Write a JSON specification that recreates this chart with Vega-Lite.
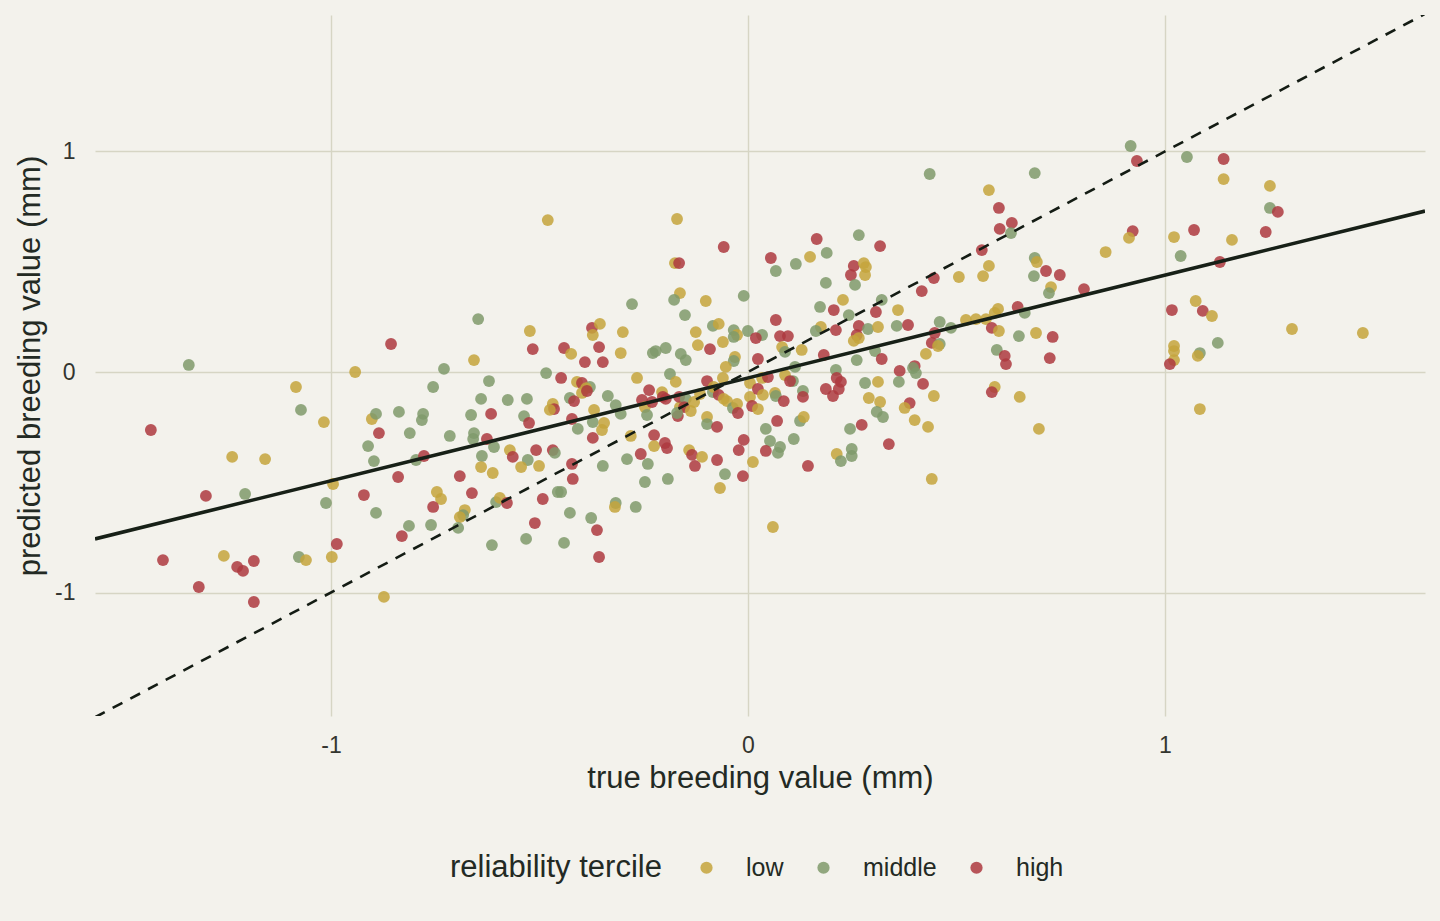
{
  "$schema": "https://vega.github.io/schema/vega-lite/v6.json",
  "width": 1330,
  "height": 701,
  "autosize": {"type": "none"},
  "padding": {"left": 95, "top": 15, "right": 15, "bottom": 205},
  "background": "#f3f2ec",
  "config": {
    "view": {"stroke": null},
    "font": "Liberation Sans",
    "axis": {
      "domain": false,
      "ticks": false,
      "grid": true,
      "gridColor": "#d6d5c4",
      "gridWidth": 1.4,
      "labelFont": "Liberation Sans",
      "labelFontSize": 23,
      "labelColor": "#33352f",
      "titleFont": "Liberation Sans",
      "titleFontSize": 31,
      "titleFontWeight": "normal",
      "titleColor": "#232a24"
    },
    "legend": {
      "labelFont": "Liberation Sans",
      "titleFont": "Liberation Sans"
    }
  },
  "datasets": {
    "pts": [
      {"tbv":-1.432,"pbv":-0.263,"tercile":"high"},
      {"tbv":-1.403,"pbv":-0.853,"tercile":"high"},
      {"tbv":-1.341,"pbv":0.032,"tercile":"middle"},
      {"tbv":-1.317,"pbv":-0.975,"tercile":"high"},
      {"tbv":-1.300,"pbv":-0.562,"tercile":"high"},
      {"tbv":-1.257,"pbv":-0.834,"tercile":"low"},
      {"tbv":-1.237,"pbv":-0.385,"tercile":"low"},
      {"tbv":-1.225,"pbv":-0.884,"tercile":"high"},
      {"tbv":-1.211,"pbv":-0.902,"tercile":"high"},
      {"tbv":-1.206,"pbv":-0.553,"tercile":"middle"},
      {"tbv":-1.185,"pbv":-0.857,"tercile":"high"},
      {"tbv":-1.185,"pbv":-1.043,"tercile":"high"},
      {"tbv":-1.158,"pbv":-0.395,"tercile":"low"},
      {"tbv":-1.084,"pbv":-0.068,"tercile":"low"},
      {"tbv":-1.077,"pbv":-0.839,"tercile":"middle"},
      {"tbv":-1.072,"pbv":-0.172,"tercile":"middle"},
      {"tbv":-1.060,"pbv":-0.853,"tercile":"low"},
      {"tbv":-1.017,"pbv":-0.227,"tercile":"low"},
      {"tbv":-1.012,"pbv":-0.594,"tercile":"middle"},
      {"tbv":-0.995,"pbv":-0.508,"tercile":"low"},
      {"tbv":-0.998,"pbv":-0.839,"tercile":"low"},
      {"tbv":-0.986,"pbv":-0.780,"tercile":"high"},
      {"tbv":-0.942,"pbv":0.000,"tercile":"low"},
      {"tbv":-0.921,"pbv":-0.558,"tercile":"high"},
      {"tbv":-0.911,"pbv":-0.336,"tercile":"middle"},
      {"tbv":-0.902,"pbv":-0.213,"tercile":"low"},
      {"tbv":-0.897,"pbv":-0.404,"tercile":"middle"},
      {"tbv":-0.892,"pbv":-0.190,"tercile":"middle"},
      {"tbv":-0.892,"pbv":-0.639,"tercile":"middle"},
      {"tbv":-0.885,"pbv":-0.277,"tercile":"high"},
      {"tbv":-0.873,"pbv":-1.020,"tercile":"low"},
      {"tbv":-0.856,"pbv":0.127,"tercile":"high"},
      {"tbv":-0.839,"pbv":-0.476,"tercile":"high"},
      {"tbv":-0.837,"pbv":-0.181,"tercile":"middle"},
      {"tbv":-0.830,"pbv":-0.744,"tercile":"high"},
      {"tbv":-0.813,"pbv":-0.698,"tercile":"middle"},
      {"tbv":-0.811,"pbv":-0.277,"tercile":"middle"},
      {"tbv":-0.796,"pbv":-0.399,"tercile":"middle"},
      {"tbv":-0.779,"pbv":-0.190,"tercile":"middle"},
      {"tbv":-0.782,"pbv":-0.218,"tercile":"middle"},
      {"tbv":-0.777,"pbv":-0.381,"tercile":"high"},
      {"tbv":-0.480,"pbv":0.689,"tercile":"low"},
      {"tbv":-0.278,"pbv":0.308,"tercile":"middle"},
      {"tbv":-0.647,"pbv":0.240,"tercile":"middle"},
      {"tbv":-0.523,"pbv":0.186,"tercile":"low"},
      {"tbv":-0.374,"pbv":0.200,"tercile":"high"},
      {"tbv":-0.355,"pbv":0.218,"tercile":"low"},
      {"tbv":-0.372,"pbv":0.168,"tercile":"low"},
      {"tbv":-0.300,"pbv":0.181,"tercile":"low"},
      {"tbv":-0.516,"pbv":0.104,"tercile":"high"},
      {"tbv":-0.441,"pbv":0.109,"tercile":"high"},
      {"tbv":-0.424,"pbv":0.082,"tercile":"low"},
      {"tbv":-0.357,"pbv":0.113,"tercile":"high"},
      {"tbv":-0.305,"pbv":0.086,"tercile":"low"},
      {"tbv":-0.391,"pbv":0.045,"tercile":"high"},
      {"tbv":-0.348,"pbv":0.045,"tercile":"high"},
      {"tbv":-0.657,"pbv":0.054,"tercile":"low"},
      {"tbv":-0.729,"pbv":0.014,"tercile":"middle"},
      {"tbv":-0.484,"pbv":-0.005,"tercile":"middle"},
      {"tbv":-0.448,"pbv":-0.027,"tercile":"high"},
      {"tbv":-0.266,"pbv":-0.027,"tercile":"low"},
      {"tbv":-0.755,"pbv":-0.068,"tercile":"middle"},
      {"tbv":-0.621,"pbv":-0.041,"tercile":"middle"},
      {"tbv":-0.410,"pbv":-0.045,"tercile":"low"},
      {"tbv":-0.398,"pbv":-0.050,"tercile":"high"},
      {"tbv":-0.379,"pbv":-0.068,"tercile":"middle"},
      {"tbv":-0.388,"pbv":-0.073,"tercile":"low"},
      {"tbv":-0.398,"pbv":-0.095,"tercile":"low"},
      {"tbv":-0.386,"pbv":-0.086,"tercile":"high"},
      {"tbv":-0.640,"pbv":-0.122,"tercile":"middle"},
      {"tbv":-0.576,"pbv":-0.127,"tercile":"middle"},
      {"tbv":-0.530,"pbv":-0.122,"tercile":"middle"},
      {"tbv":-0.427,"pbv":-0.118,"tercile":"middle"},
      {"tbv":-0.417,"pbv":-0.132,"tercile":"high"},
      {"tbv":-0.336,"pbv":-0.109,"tercile":"middle"},
      {"tbv":-0.317,"pbv":-0.150,"tercile":"middle"},
      {"tbv":-0.305,"pbv":-0.190,"tercile":"middle"},
      {"tbv":-0.468,"pbv":-0.145,"tercile":"low"},
      {"tbv":-0.465,"pbv":-0.168,"tercile":"high"},
      {"tbv":-0.475,"pbv":-0.172,"tercile":"low"},
      {"tbv":-0.369,"pbv":-0.172,"tercile":"low"},
      {"tbv":-0.254,"pbv":-0.127,"tercile":"high"},
      {"tbv":-0.664,"pbv":-0.195,"tercile":"middle"},
      {"tbv":-0.616,"pbv":-0.190,"tercile":"high"},
      {"tbv":-0.537,"pbv":-0.200,"tercile":"middle"},
      {"tbv":-0.525,"pbv":-0.231,"tercile":"high"},
      {"tbv":-0.422,"pbv":-0.213,"tercile":"high"},
      {"tbv":-0.372,"pbv":-0.227,"tercile":"middle"},
      {"tbv":-0.345,"pbv":-0.231,"tercile":"low"},
      {"tbv":-0.350,"pbv":-0.263,"tercile":"low"},
      {"tbv":-0.408,"pbv":-0.258,"tercile":"middle"},
      {"tbv":-0.715,"pbv":-0.290,"tercile":"middle"},
      {"tbv":-0.657,"pbv":-0.277,"tercile":"middle"},
      {"tbv":-0.659,"pbv":-0.304,"tercile":"middle"},
      {"tbv":-0.626,"pbv":-0.304,"tercile":"high"},
      {"tbv":-0.609,"pbv":-0.340,"tercile":"middle"},
      {"tbv":-0.372,"pbv":-0.299,"tercile":"high"},
      {"tbv":-0.281,"pbv":-0.290,"tercile":"low"},
      {"tbv":-0.638,"pbv":-0.381,"tercile":"middle"},
      {"tbv":-0.571,"pbv":-0.354,"tercile":"low"},
      {"tbv":-0.564,"pbv":-0.385,"tercile":"high"},
      {"tbv":-0.508,"pbv":-0.354,"tercile":"high"},
      {"tbv":-0.468,"pbv":-0.354,"tercile":"high"},
      {"tbv":-0.463,"pbv":-0.367,"tercile":"middle"},
      {"tbv":-0.528,"pbv":-0.399,"tercile":"middle"},
      {"tbv":-0.544,"pbv":-0.431,"tercile":"low"},
      {"tbv":-0.501,"pbv":-0.426,"tercile":"low"},
      {"tbv":-0.640,"pbv":-0.431,"tercile":"low"},
      {"tbv":-0.612,"pbv":-0.458,"tercile":"low"},
      {"tbv":-0.422,"pbv":-0.417,"tercile":"high"},
      {"tbv":-0.348,"pbv":-0.426,"tercile":"middle"},
      {"tbv":-0.290,"pbv":-0.395,"tercile":"middle"},
      {"tbv":-0.257,"pbv":-0.372,"tercile":"high"},
      {"tbv":-0.691,"pbv":-0.472,"tercile":"high"},
      {"tbv":-0.420,"pbv":-0.485,"tercile":"high"},
      {"tbv":-0.746,"pbv":-0.544,"tercile":"low"},
      {"tbv":-0.736,"pbv":-0.576,"tercile":"low"},
      {"tbv":-0.662,"pbv":-0.549,"tercile":"high"},
      {"tbv":-0.755,"pbv":-0.612,"tercile":"high"},
      {"tbv":-0.604,"pbv":-0.590,"tercile":"middle"},
      {"tbv":-0.595,"pbv":-0.571,"tercile":"low"},
      {"tbv":-0.578,"pbv":-0.594,"tercile":"high"},
      {"tbv":-0.492,"pbv":-0.576,"tercile":"high"},
      {"tbv":-0.456,"pbv":-0.544,"tercile":"middle"},
      {"tbv":-0.448,"pbv":-0.544,"tercile":"middle"},
      {"tbv":-0.317,"pbv":-0.594,"tercile":"middle"},
      {"tbv":-0.319,"pbv":-0.612,"tercile":"low"},
      {"tbv":-0.269,"pbv":-0.612,"tercile":"middle"},
      {"tbv":-0.679,"pbv":-0.626,"tercile":"low"},
      {"tbv":-0.683,"pbv":-0.649,"tercile":"middle"},
      {"tbv":-0.691,"pbv":-0.658,"tercile":"low"},
      {"tbv":-0.760,"pbv":-0.694,"tercile":"middle"},
      {"tbv":-0.695,"pbv":-0.707,"tercile":"middle"},
      {"tbv":-0.511,"pbv":-0.685,"tercile":"high"},
      {"tbv":-0.427,"pbv":-0.639,"tercile":"middle"},
      {"tbv":-0.376,"pbv":-0.662,"tercile":"middle"},
      {"tbv":-0.362,"pbv":-0.717,"tercile":"high"},
      {"tbv":-0.614,"pbv":-0.785,"tercile":"middle"},
      {"tbv":-0.532,"pbv":-0.757,"tercile":"middle"},
      {"tbv":-0.441,"pbv":-0.775,"tercile":"middle"},
      {"tbv":-0.357,"pbv":-0.839,"tercile":"high"},
      {"tbv":-0.170,"pbv":0.694,"tercile":"low"},
      {"tbv":-0.058,"pbv":0.567,"tercile":"high"},
      {"tbv":-0.175,"pbv":0.494,"tercile":"low"},
      {"tbv":-0.165,"pbv":0.494,"tercile":"high"},
      {"tbv":0.165,"pbv":0.603,"tercile":"high"},
      {"tbv":0.055,"pbv":0.517,"tercile":"high"},
      {"tbv":0.149,"pbv":0.522,"tercile":"low"},
      {"tbv":0.115,"pbv":0.490,"tercile":"middle"},
      {"tbv":0.067,"pbv":0.458,"tercile":"middle"},
      {"tbv":0.189,"pbv":0.540,"tercile":"middle"},
      {"tbv":0.187,"pbv":0.404,"tercile":"middle"},
      {"tbv":-0.163,"pbv":0.358,"tercile":"low"},
      {"tbv":-0.177,"pbv":0.327,"tercile":"middle"},
      {"tbv":-0.101,"pbv":0.322,"tercile":"low"},
      {"tbv":-0.010,"pbv":0.345,"tercile":"middle"},
      {"tbv":-0.151,"pbv":0.258,"tercile":"middle"},
      {"tbv":0.173,"pbv":0.295,"tercile":"middle"},
      {"tbv":0.067,"pbv":0.236,"tercile":"high"},
      {"tbv":-0.125,"pbv":0.181,"tercile":"low"},
      {"tbv":-0.120,"pbv":0.122,"tercile":"low"},
      {"tbv":-0.084,"pbv":0.209,"tercile":"middle"},
      {"tbv":-0.070,"pbv":0.218,"tercile":"low"},
      {"tbv":-0.034,"pbv":0.190,"tercile":"middle"},
      {"tbv":-0.026,"pbv":0.168,"tercile":"low"},
      {"tbv":-0.034,"pbv":0.159,"tercile":"middle"},
      {"tbv":0.000,"pbv":0.186,"tercile":"middle"},
      {"tbv":0.034,"pbv":0.168,"tercile":"middle"},
      {"tbv":0.019,"pbv":0.154,"tercile":"high"},
      {"tbv":-0.060,"pbv":0.136,"tercile":"low"},
      {"tbv":-0.091,"pbv":0.104,"tercile":"high"},
      {"tbv":0.077,"pbv":0.163,"tercile":"high"},
      {"tbv":0.096,"pbv":0.163,"tercile":"high"},
      {"tbv":0.082,"pbv":0.113,"tercile":"low"},
      {"tbv":0.089,"pbv":0.091,"tercile":"middle"},
      {"tbv":0.129,"pbv":0.100,"tercile":"low"},
      {"tbv":0.175,"pbv":0.204,"tercile":"low"},
      {"tbv":0.163,"pbv":0.186,"tercile":"middle"},
      {"tbv":0.182,"pbv":0.077,"tercile":"high"},
      {"tbv":-0.228,"pbv":0.086,"tercile":"middle"},
      {"tbv":-0.221,"pbv":0.095,"tercile":"middle"},
      {"tbv":-0.197,"pbv":0.109,"tercile":"middle"},
      {"tbv":-0.161,"pbv":0.082,"tercile":"middle"},
      {"tbv":-0.149,"pbv":0.054,"tercile":"middle"},
      {"tbv":-0.031,"pbv":0.068,"tercile":"low"},
      {"tbv":-0.034,"pbv":0.050,"tercile":"middle"},
      {"tbv":-0.053,"pbv":0.023,"tercile":"low"},
      {"tbv":0.024,"pbv":0.059,"tercile":"high"},
      {"tbv":0.113,"pbv":0.023,"tercile":"middle"},
      {"tbv":-0.187,"pbv":-0.009,"tercile":"middle"},
      {"tbv":-0.173,"pbv":-0.045,"tercile":"low"},
      {"tbv":-0.098,"pbv":-0.041,"tercile":"high"},
      {"tbv":-0.060,"pbv":-0.027,"tercile":"low"},
      {"tbv":0.005,"pbv":-0.050,"tercile":"low"},
      {"tbv":0.034,"pbv":-0.027,"tercile":"low"},
      {"tbv":0.048,"pbv":-0.023,"tercile":"high"},
      {"tbv":0.089,"pbv":-0.014,"tercile":"low"},
      {"tbv":0.108,"pbv":-0.041,"tercile":"middle"},
      {"tbv":0.101,"pbv":-0.041,"tercile":"high"},
      {"tbv":-0.237,"pbv":-0.082,"tercile":"high"},
      {"tbv":-0.247,"pbv":-0.159,"tercile":"low"},
      {"tbv":-0.206,"pbv":-0.091,"tercile":"low"},
      {"tbv":-0.204,"pbv":-0.113,"tercile":"high"},
      {"tbv":-0.197,"pbv":-0.122,"tercile":"high"},
      {"tbv":-0.230,"pbv":-0.136,"tercile":"high"},
      {"tbv":-0.163,"pbv":-0.159,"tercile":"low"},
      {"tbv":-0.165,"pbv":-0.113,"tercile":"high"},
      {"tbv":-0.149,"pbv":-0.122,"tercile":"middle"},
      {"tbv":-0.153,"pbv":-0.159,"tercile":"high"},
      {"tbv":-0.137,"pbv":-0.177,"tercile":"low"},
      {"tbv":-0.129,"pbv":-0.136,"tercile":"low"},
      {"tbv":-0.115,"pbv":-0.100,"tercile":"low"},
      {"tbv":-0.084,"pbv":-0.091,"tercile":"middle"},
      {"tbv":-0.082,"pbv":-0.068,"tercile":"low"},
      {"tbv":-0.070,"pbv":-0.104,"tercile":"high"},
      {"tbv":-0.058,"pbv":-0.122,"tercile":"low"},
      {"tbv":-0.050,"pbv":-0.132,"tercile":"low"},
      {"tbv":-0.036,"pbv":-0.163,"tercile":"middle"},
      {"tbv":-0.026,"pbv":-0.145,"tercile":"low"},
      {"tbv":-0.024,"pbv":-0.186,"tercile":"high"},
      {"tbv":0.005,"pbv":-0.113,"tercile":"low"},
      {"tbv":0.024,"pbv":-0.077,"tercile":"high"},
      {"tbv":0.036,"pbv":-0.104,"tercile":"low"},
      {"tbv":0.010,"pbv":-0.154,"tercile":"high"},
      {"tbv":0.024,"pbv":-0.168,"tercile":"low"},
      {"tbv":0.065,"pbv":-0.095,"tercile":"low"},
      {"tbv":0.067,"pbv":-0.109,"tercile":"middle"},
      {"tbv":0.086,"pbv":-0.132,"tercile":"high"},
      {"tbv":0.132,"pbv":-0.086,"tercile":"middle"},
      {"tbv":0.132,"pbv":-0.113,"tercile":"high"},
      {"tbv":0.187,"pbv":-0.077,"tercile":"high"},
      {"tbv":-0.242,"pbv":-0.195,"tercile":"middle"},
      {"tbv":-0.168,"pbv":-0.200,"tercile":"high"},
      {"tbv":-0.170,"pbv":-0.186,"tercile":"middle"},
      {"tbv":-0.098,"pbv":-0.204,"tercile":"low"},
      {"tbv":-0.098,"pbv":-0.236,"tercile":"middle"},
      {"tbv":-0.074,"pbv":-0.249,"tercile":"high"},
      {"tbv":0.070,"pbv":-0.222,"tercile":"high"},
      {"tbv":0.043,"pbv":-0.258,"tercile":"middle"},
      {"tbv":0.125,"pbv":-0.222,"tercile":"middle"},
      {"tbv":0.134,"pbv":-0.204,"tercile":"low"},
      {"tbv":-0.225,"pbv":-0.286,"tercile":"high"},
      {"tbv":-0.225,"pbv":-0.336,"tercile":"low"},
      {"tbv":-0.199,"pbv":-0.322,"tercile":"high"},
      {"tbv":-0.194,"pbv":-0.345,"tercile":"high"},
      {"tbv":-0.010,"pbv":-0.308,"tercile":"high"},
      {"tbv":-0.022,"pbv":-0.354,"tercile":"high"},
      {"tbv":0.053,"pbv":-0.313,"tercile":"middle"},
      {"tbv":0.077,"pbv":-0.340,"tercile":"middle"},
      {"tbv":0.072,"pbv":-0.367,"tercile":"middle"},
      {"tbv":0.043,"pbv":-0.358,"tercile":"high"},
      {"tbv":0.110,"pbv":-0.304,"tercile":"middle"},
      {"tbv":-0.240,"pbv":-0.417,"tercile":"middle"},
      {"tbv":-0.141,"pbv":-0.354,"tercile":"low"},
      {"tbv":-0.134,"pbv":-0.376,"tercile":"high"},
      {"tbv":-0.127,"pbv":-0.426,"tercile":"high"},
      {"tbv":-0.110,"pbv":-0.385,"tercile":"low"},
      {"tbv":-0.074,"pbv":-0.399,"tercile":"high"},
      {"tbv":0.012,"pbv":-0.408,"tercile":"low"},
      {"tbv":0.144,"pbv":-0.426,"tercile":"high"},
      {"tbv":-0.247,"pbv":-0.499,"tercile":"middle"},
      {"tbv":-0.192,"pbv":-0.485,"tercile":"middle"},
      {"tbv":-0.055,"pbv":-0.463,"tercile":"middle"},
      {"tbv":-0.012,"pbv":-0.472,"tercile":"high"},
      {"tbv":-0.067,"pbv":-0.526,"tercile":"low"},
      {"tbv":0.060,"pbv":-0.703,"tercile":"low"},
      {"tbv":0.436,"pbv":0.898,"tercile":"middle"},
      {"tbv":0.578,"pbv":0.825,"tercile":"low"},
      {"tbv":0.602,"pbv":0.744,"tercile":"high"},
      {"tbv":0.633,"pbv":0.676,"tercile":"high"},
      {"tbv":0.604,"pbv":0.649,"tercile":"high"},
      {"tbv":0.631,"pbv":0.630,"tercile":"middle"},
      {"tbv":0.266,"pbv":0.621,"tercile":"middle"},
      {"tbv":0.317,"pbv":0.571,"tercile":"high"},
      {"tbv":0.561,"pbv":0.553,"tercile":"high"},
      {"tbv":0.254,"pbv":0.481,"tercile":"high"},
      {"tbv":0.278,"pbv":0.494,"tercile":"low"},
      {"tbv":0.283,"pbv":0.476,"tercile":"low"},
      {"tbv":0.281,"pbv":0.440,"tercile":"low"},
      {"tbv":0.247,"pbv":0.440,"tercile":"high"},
      {"tbv":0.257,"pbv":0.395,"tercile":"middle"},
      {"tbv":0.578,"pbv":0.481,"tercile":"low"},
      {"tbv":0.564,"pbv":0.435,"tercile":"low"},
      {"tbv":0.506,"pbv":0.431,"tercile":"low"},
      {"tbv":0.446,"pbv":0.426,"tercile":"high"},
      {"tbv":0.417,"pbv":0.367,"tercile":"high"},
      {"tbv":0.228,"pbv":0.327,"tercile":"low"},
      {"tbv":0.321,"pbv":0.327,"tercile":"middle"},
      {"tbv":0.206,"pbv":0.281,"tercile":"high"},
      {"tbv":0.360,"pbv":0.281,"tercile":"low"},
      {"tbv":0.307,"pbv":0.272,"tercile":"high"},
      {"tbv":0.242,"pbv":0.258,"tercile":"middle"},
      {"tbv":0.600,"pbv":0.286,"tercile":"low"},
      {"tbv":0.592,"pbv":0.268,"tercile":"low"},
      {"tbv":0.647,"pbv":0.295,"tercile":"high"},
      {"tbv":0.211,"pbv":0.190,"tercile":"high"},
      {"tbv":0.266,"pbv":0.209,"tercile":"high"},
      {"tbv":0.288,"pbv":0.195,"tercile":"middle"},
      {"tbv":0.312,"pbv":0.204,"tercile":"low"},
      {"tbv":0.357,"pbv":0.209,"tercile":"middle"},
      {"tbv":0.384,"pbv":0.213,"tercile":"high"},
      {"tbv":0.261,"pbv":0.168,"tercile":"high"},
      {"tbv":0.266,"pbv":0.154,"tercile":"low"},
      {"tbv":0.254,"pbv":0.141,"tercile":"low"},
      {"tbv":0.460,"pbv":0.227,"tercile":"middle"},
      {"tbv":0.487,"pbv":0.200,"tercile":"middle"},
      {"tbv":0.523,"pbv":0.236,"tercile":"low"},
      {"tbv":0.547,"pbv":0.240,"tercile":"low"},
      {"tbv":0.571,"pbv":0.240,"tercile":"low"},
      {"tbv":0.585,"pbv":0.200,"tercile":"high"},
      {"tbv":0.602,"pbv":0.186,"tercile":"low"},
      {"tbv":0.448,"pbv":0.177,"tercile":"high"},
      {"tbv":0.441,"pbv":0.132,"tercile":"high"},
      {"tbv":0.460,"pbv":0.127,"tercile":"middle"},
      {"tbv":0.456,"pbv":0.118,"tercile":"low"},
      {"tbv":0.650,"pbv":0.163,"tercile":"middle"},
      {"tbv":0.305,"pbv":0.095,"tercile":"middle"},
      {"tbv":0.321,"pbv":0.059,"tercile":"high"},
      {"tbv":0.427,"pbv":0.082,"tercile":"low"},
      {"tbv":0.261,"pbv":0.054,"tercile":"middle"},
      {"tbv":0.597,"pbv":0.100,"tercile":"middle"},
      {"tbv":0.616,"pbv":0.073,"tercile":"high"},
      {"tbv":0.619,"pbv":0.036,"tercile":"high"},
      {"tbv":0.211,"pbv":0.009,"tercile":"middle"},
      {"tbv":0.213,"pbv":-0.027,"tercile":"high"},
      {"tbv":0.223,"pbv":-0.045,"tercile":"high"},
      {"tbv":0.218,"pbv":-0.077,"tercile":"high"},
      {"tbv":0.204,"pbv":-0.109,"tercile":"high"},
      {"tbv":0.281,"pbv":-0.050,"tercile":"middle"},
      {"tbv":0.312,"pbv":-0.045,"tercile":"low"},
      {"tbv":0.364,"pbv":0.005,"tercile":"high"},
      {"tbv":0.362,"pbv":-0.045,"tercile":"middle"},
      {"tbv":0.400,"pbv":0.027,"tercile":"high"},
      {"tbv":0.396,"pbv":0.018,"tercile":"middle"},
      {"tbv":0.403,"pbv":-0.005,"tercile":"middle"},
      {"tbv":0.420,"pbv":-0.054,"tercile":"high"},
      {"tbv":0.446,"pbv":-0.109,"tercile":"low"},
      {"tbv":0.592,"pbv":-0.068,"tercile":"low"},
      {"tbv":0.585,"pbv":-0.091,"tercile":"high"},
      {"tbv":0.652,"pbv":-0.113,"tercile":"low"},
      {"tbv":0.290,"pbv":-0.118,"tercile":"low"},
      {"tbv":0.317,"pbv":-0.136,"tercile":"low"},
      {"tbv":0.388,"pbv":-0.141,"tercile":"high"},
      {"tbv":0.376,"pbv":-0.163,"tercile":"low"},
      {"tbv":0.309,"pbv":-0.181,"tercile":"middle"},
      {"tbv":0.324,"pbv":-0.204,"tercile":"middle"},
      {"tbv":0.400,"pbv":-0.218,"tercile":"low"},
      {"tbv":0.432,"pbv":-0.249,"tercile":"low"},
      {"tbv":0.245,"pbv":-0.258,"tercile":"middle"},
      {"tbv":0.273,"pbv":-0.240,"tercile":"high"},
      {"tbv":0.338,"pbv":-0.327,"tercile":"high"},
      {"tbv":0.213,"pbv":-0.372,"tercile":"low"},
      {"tbv":0.223,"pbv":-0.404,"tercile":"middle"},
      {"tbv":0.249,"pbv":-0.349,"tercile":"middle"},
      {"tbv":0.249,"pbv":-0.381,"tercile":"middle"},
      {"tbv":0.441,"pbv":-0.485,"tercile":"low"},
      {"tbv":0.918,"pbv":1.025,"tercile":"middle"},
      {"tbv":0.933,"pbv":0.957,"tercile":"high"},
      {"tbv":1.053,"pbv":0.975,"tercile":"middle"},
      {"tbv":0.688,"pbv":0.902,"tercile":"middle"},
      {"tbv":0.923,"pbv":0.639,"tercile":"high"},
      {"tbv":0.914,"pbv":0.608,"tercile":"low"},
      {"tbv":1.022,"pbv":0.612,"tercile":"low"},
      {"tbv":1.070,"pbv":0.644,"tercile":"high"},
      {"tbv":0.858,"pbv":0.544,"tercile":"low"},
      {"tbv":1.038,"pbv":0.526,"tercile":"middle"},
      {"tbv":0.688,"pbv":0.517,"tercile":"middle"},
      {"tbv":0.693,"pbv":0.499,"tercile":"low"},
      {"tbv":0.715,"pbv":0.458,"tercile":"high"},
      {"tbv":0.748,"pbv":0.440,"tercile":"high"},
      {"tbv":0.686,"pbv":0.435,"tercile":"middle"},
      {"tbv":0.727,"pbv":0.385,"tercile":"low"},
      {"tbv":0.722,"pbv":0.358,"tercile":"middle"},
      {"tbv":0.806,"pbv":0.376,"tercile":"high"},
      {"tbv":1.074,"pbv":0.322,"tercile":"low"},
      {"tbv":1.091,"pbv":0.277,"tercile":"high"},
      {"tbv":1.017,"pbv":0.281,"tercile":"high"},
      {"tbv":0.664,"pbv":0.268,"tercile":"middle"},
      {"tbv":0.691,"pbv":0.177,"tercile":"low"},
      {"tbv":0.731,"pbv":0.159,"tercile":"high"},
      {"tbv":0.724,"pbv":0.063,"tercile":"high"},
      {"tbv":1.022,"pbv":0.118,"tercile":"low"},
      {"tbv":1.022,"pbv":0.095,"tercile":"low"},
      {"tbv":1.022,"pbv":0.054,"tercile":"low"},
      {"tbv":1.012,"pbv":0.036,"tercile":"high"},
      {"tbv":1.084,"pbv":0.086,"tercile":"middle"},
      {"tbv":1.079,"pbv":0.073,"tercile":"low"},
      {"tbv":1.084,"pbv":-0.168,"tercile":"low"},
      {"tbv":0.698,"pbv":-0.258,"tercile":"low"},
      {"tbv":1.141,"pbv":0.966,"tercile":"high"},
      {"tbv":1.141,"pbv":0.875,"tercile":"low"},
      {"tbv":1.252,"pbv":0.844,"tercile":"low"},
      {"tbv":1.252,"pbv":0.744,"tercile":"middle"},
      {"tbv":1.271,"pbv":0.726,"tercile":"high"},
      {"tbv":1.242,"pbv":0.635,"tercile":"high"},
      {"tbv":1.161,"pbv":0.599,"tercile":"low"},
      {"tbv":1.132,"pbv":0.499,"tercile":"high"},
      {"tbv":1.113,"pbv":0.254,"tercile":"low"},
      {"tbv":1.305,"pbv":0.195,"tercile":"low"},
      {"tbv":1.475,"pbv":0.177,"tercile":"low"},
      {"tbv":1.127,"pbv":0.132,"tercile":"middle"}
    ],
    "identity": [
      {"tbv": -1.566, "pbv": -1.566},
      {"tbv": 1.624, "pbv": 1.624}
    ],
    "fit": [
      {"tbv": -1.566, "pbv": -0.757},
      {"tbv": 1.624, "pbv": 0.730}
    ]
  },
  "layer": [
    {
      "data": {"name": "pts"},
      "mark": {"type": "point", "filled": true, "size": 140, "opacity": 0.85},
      "encoding": {
        "x": {
          "field": "tbv", "type": "quantitative",
          "scale": {"domain": [-1.566, 1.624], "nice": false, "zero": false},
          "axis": {
            "title": "true breeding value (mm)",
            "values": [-1, 0, 1],
            "format": "d",
            "labelExpr": "replace(datum.label, '\u2212', '-')",
            "labelPadding": 18,
            "titlePadding": 6
          }
        },
        "y": {
          "field": "pbv", "type": "quantitative",
          "scale": {"domain": [-1.56, 1.619], "nice": false, "zero": false},
          "axis": {
            "title": "predicted breeding value (mm)",
            "values": [-1, 0, 1],
            "format": "d",
            "labelExpr": "replace(datum.label, '\u2212', '-')",
            "labelPadding": 20,
            "titlePadding": 8
          }
        },
        "color": {
          "field": "tercile", "type": "nominal",
          "scale": {"domain": ["low", "middle", "high"], "range": ["#c4a43c", "#7f9a6b", "#ad3a40"]},
          "legend": {
            "title": "reliability tercile",
            "orient": "none",
            "direction": "horizontal",
            "legendX": 355,
            "legendY": 840,
            "titleOrient": "left",
            "titleFontSize": 31,
            "titleFontWeight": "normal",
            "titleColor": "#232a24",
            "titleLimit": 500,
            "titlePadding": 32,
            "labelFontSize": 25,
            "labelColor": "#232a24",
            "labelOffset": 27,
            "columnPadding": 27,
            "symbolType": "circle",
            "symbolSize": 150,
            "symbolOpacity": 0.85,
            "padding": 0
          }
        }
      }
    },
    {
      "data": {"name": "identity"},
      "mark": {"type": "line", "color": "#141c14", "strokeWidth": 2.6, "strokeDash": [11, 9], "clip": true},
      "encoding": {
        "x": {"field": "tbv", "type": "quantitative"},
        "y": {"field": "pbv", "type": "quantitative"}
      }
    },
    {
      "data": {"name": "fit"},
      "mark": {"type": "line", "color": "#172017", "strokeWidth": 3.6, "clip": true},
      "encoding": {
        "x": {"field": "tbv", "type": "quantitative"},
        "y": {"field": "pbv", "type": "quantitative"}
      }
    }
  ]
}
